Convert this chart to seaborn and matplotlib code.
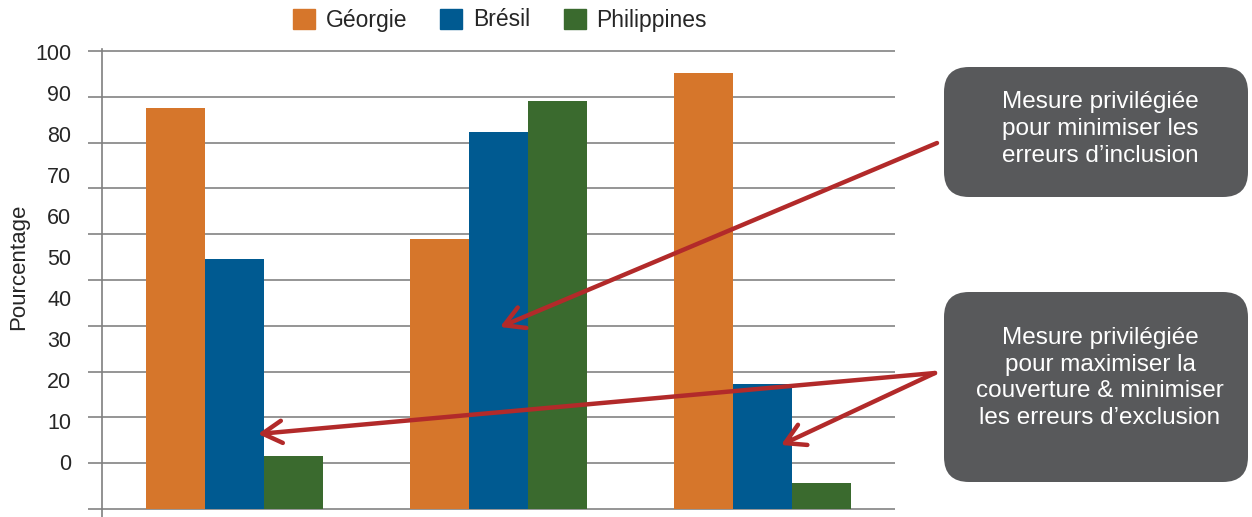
import matplotlib
matplotlib.use("Agg")
import matplotlib.pyplot as plt
from matplotlib.patches import FancyBboxPatch
import seaborn as sns
import pandas as pd

# Data
groups = ["Mesure 1", "Mesure 2", "Mesure 3"]
pays = ["Géorgie", "Brésil", "Philippines"]
georgie = [87.5, 59.0, 95.2]
bresil = [54.6, 82.3, 27.3]
philippines = [11.6, 89.1, 5.7]
tick_values = [0, 10, 20, 30, 40, 50, 60, 70, 80, 90, 100]
box_texts = [
    "Mesure privilégiée\npour minimiser les\nerreurs d’inclusion",
    "Mesure privilégiée\npour maximiser la\ncouverture & minimiser\nles erreurs d’exclusion",
]
colors = ["#D6762B", "#005A91", "#3A6A2E"]

df = pd.DataFrame({
    "groupe": groups * 3,
    "pays": [p for p in pays for _ in groups],
    "valeur": georgie + bresil + philippines,
})

sns.set_theme(style="white")
plt.rcParams["font.family"] = ["Liberation Sans", "DejaVu Sans"]
text_color = "#262626"
grid_color = "#8C8C8C"

W, H, DPI = 1252, 517, 100
fig = plt.figure(figsize=(W / DPI, H / DPI), dpi=DPI)

# axes area in pixels: left 102, right 895, top ~48.7, bottom 517
px_per_unit = 4.58
y_base = 509
ymin = -(H - y_base) / px_per_unit
ymax = 100.5
top_px = y_base - ymax * px_per_unit
ax = fig.add_axes([102 / W, 0, (895 - 102) / W, (H - top_px) / H])

sns.barplot(data=df, x="groupe", y="valeur", hue="pays", hue_order=pays,
            palette=colors, saturation=1, width=0.67, linewidth=0,
            ax=ax, legend=False, zorder=3)

ax.set_xlim(-0.5, 2.5)
ax.set_ylim(ymin, ymax)
ax.set_yticks(tick_values)
ax.yaxis.grid(True, color=grid_color, linewidth=1.3, zorder=0)
ax.set_axisbelow(True)
ax.tick_params(axis="y", which="both", left=True, length=10, width=1.3,
               color=grid_color, labelleft=False)
ax.tick_params(axis="x", bottom=False, labelbottom=False)
ax.set_xlabel("")
for s in ["top", "right", "bottom"]:
    ax.spines[s].set_visible(False)
ax.spines["left"].set_color("#7F7F7F")
ax.spines["left"].set_linewidth(1.2)

ax.set_ylabel("Pourcentage", fontsize=16, color=text_color)
ax.yaxis.set_label_coords(-(102 - 29) / (895 - 102), (H - 267) / (H - top_px))

# Value scale printed on the left
lab_zero_px, lab_px_per_unit = 462, 4.1
ax2 = ax.twinx()
ax2.set_ylim((lab_zero_px - H) / lab_px_per_unit, (lab_zero_px - top_px) / lab_px_per_unit)
ax2.set_yticks(tick_values)
ax2.set_yticklabels([str(v) for v in tick_values])
ax2.yaxis.tick_left()
ax2.tick_params(axis="y", length=0, pad=22, labelsize=15.5, labelcolor=text_color)
for s in ax2.spines.values():
    s.set_visible(False)

# Legend
handles = [plt.Rectangle((0, 0), 1, 1, color=c) for c in colors]
fig.legend(handles, pays, loc="center", bbox_to_anchor=(500 / W, 1 - 20 / H),
           ncol=3, frameon=False, fontsize=16.5, handlelength=0.96, handleheight=0.96,
           handletextpad=0.48, columnspacing=1.44, labelcolor=text_color)

# Annotation boxes (box edges and text centre, in pixels)
boxes = [(944, 67, 1248, 197, 129), (944, 292, 1248, 482, 378)]
for (x0, y0, x1, y1, ty), txt in zip(boxes, box_texts):
    patch = FancyBboxPatch((x0 / W, 1 - y1 / H), (x1 - x0) / W, (y1 - y0) / H,
                           boxstyle="round,pad=0,rounding_size=0.02",
                           transform=fig.transFigure, facecolor="#58595B",
                           edgecolor="none", mutation_aspect=W / H)
    fig.add_artist(patch)
    fig.text(1100 / W, 1 - ty / H, txt, ha="center",
             va="center", color="white", fontsize=17.5, linespacing=1.27)

# Arrows
arrow_color = "#B22A2A"
arrows = [((937, 143), (500, 327)), ((935, 373), (258, 434)), ((935, 373), (781, 445))]
for (sx, sy), (ex, ey) in arrows:
    ax.annotate("", xy=(ex, H - ey), xycoords="figure pixels",
                xytext=(sx, H - sy), textcoords="figure pixels",
                arrowprops=dict(arrowstyle="->,head_length=0.7,head_width=0.4",
                                color=arrow_color, lw=3.2, mutation_scale=20,
                                shrinkA=0, shrinkB=0),
                annotation_clip=False, zorder=10)

fig.savefig("out.png", dpi=DPI)
